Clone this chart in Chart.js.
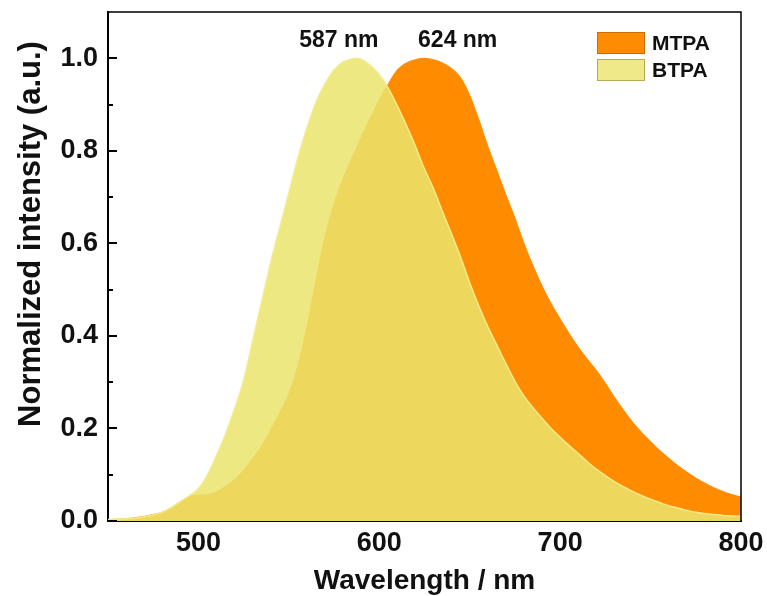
<!DOCTYPE html>
<html>
<head>
<meta charset="utf-8">
<script src="https://cdn.jsdelivr.net/npm/chart.js@4/dist/chart.umd.min.js"></script>
<style>
  html, body { margin: 0; padding: 0; background: #fff; }
  #wrap { width: 767px; height: 596px; }
</style>
</head>
<body>
<div id="wrap"><canvas id="pl_chart"></canvas></div>
<script>
// emission spectra, normalized
const wavelengths = [
  450, 455, 460, 465, 470, 475, 480, 485, 490, 495,
  500, 505, 510, 515, 520, 525, 530, 535, 540, 545,
  550, 555, 560, 565, 570, 575, 580, 585, 587, 590,
  595, 600, 605, 610, 615, 620, 624, 630, 635, 640,
  645, 650, 655, 660, 665, 670, 675, 680, 685, 690,
  695, 700, 705, 710, 715, 720, 725, 730, 735, 740,
  745, 750, 755, 760, 765, 770, 775, 780, 785, 790,
  795, 800
];

const mtpa = [
  0.003, 0.004, 0.005, 0.007, 0.010, 0.014, 0.019, 0.029, 0.042, 0.053,
  0.056, 0.057, 0.063, 0.075, 0.090, 0.110, 0.135, 0.163, 0.197, 0.235,
  0.275, 0.335, 0.420, 0.520, 0.615, 0.685, 0.740, 0.785, 0.803, 0.830,
  0.870, 0.910, 0.945, 0.975, 0.990, 0.997, 1.000, 0.997, 0.990, 0.978,
  0.958, 0.920, 0.868, 0.810, 0.758, 0.705, 0.655, 0.600, 0.552, 0.508,
  0.470, 0.437, 0.405, 0.376, 0.350, 0.326, 0.298, 0.268, 0.240, 0.214,
  0.192, 0.172, 0.153, 0.136, 0.120, 0.106, 0.093, 0.082, 0.072, 0.064,
  0.057, 0.052
];

const btpa = [
  0.003, 0.004, 0.005, 0.006, 0.009, 0.013, 0.019, 0.029, 0.042, 0.055,
  0.070, 0.100, 0.142, 0.188, 0.243, 0.305, 0.390, 0.475, 0.560, 0.635,
  0.710, 0.785, 0.850, 0.905, 0.945, 0.975, 0.992, 0.999, 1.000, 0.998,
  0.985, 0.965, 0.935, 0.897, 0.855, 0.810, 0.770, 0.718, 0.668, 0.620,
  0.570, 0.515, 0.465, 0.420, 0.380, 0.340, 0.302, 0.270, 0.245, 0.222,
  0.200, 0.181, 0.163, 0.146, 0.128, 0.112, 0.098, 0.085, 0.074, 0.064,
  0.055, 0.047, 0.040, 0.033, 0.028, 0.023, 0.019, 0.016, 0.014, 0.012,
  0.011, 0.010
];

const seriesNames = ['MTPA', 'BTPA'];
const peaks = [587, 624];

const xTicks = [500, 600, 700, 800];
const yMajor = [0, 0.2, 0.4, 0.6, 0.8, 1.0];
const yMinor = [0.1, 0.3, 0.5, 0.7, 0.9];

const FONT = "'Liberation Sans', Arial, sans-serif";

function toPoints(values) {
  return wavelengths.map((w, i) => ({ x: w, y: values[i] }));
}

const isMajor = v => yMajor.some(m => Math.abs(m - v) < 1e-6);

// frame on top/right, inward ticks on the y axis, rotated y title
const framePlugin = {
  id: 'frame',
  afterDraw(chart) {
    const { ctx, chartArea: a } = chart;
    const y = chart.scales.y;
    ctx.save();
    ctx.strokeStyle = '#000';
    ctx.lineWidth = 1.5;
    ctx.beginPath();
    ctx.moveTo(a.left, a.top);
    ctx.lineTo(a.right, a.top);
    ctx.lineTo(a.right, a.bottom);
    ctx.stroke();

    ctx.lineWidth = 2;
    y.ticks.forEach(t => {
      const py = Math.round(y.getPixelForValue(t.value));
      const len = isMajor(t.value) ? 9 : 5;
      ctx.beginPath();
      ctx.moveTo(a.left, py);
      ctx.lineTo(a.left + len, py);
      ctx.stroke();
    });

    ctx.translate(31, 234);
    ctx.rotate(-Math.PI / 2);
    ctx.fillStyle = '#111';
    ctx.font = 'bold 31px ' + FONT;
    ctx.textAlign = 'center';
    ctx.textBaseline = 'middle';
    ctx.fillText('Normalized intensity (a.u.)', 0, 0);
    ctx.restore();
  }
};

// peak labels and the legend inside the plot
const notesPlugin = {
  id: 'notes',
  afterDraw(chart) {
    const { ctx, chartArea: a } = chart;
    const x = chart.scales.x;
    ctx.save();
    ctx.fillStyle = '#111';
    ctx.font = 'bold 23px ' + FONT;
    ctx.textAlign = 'center';
    ctx.textBaseline = 'middle';
    const shift = [-17, 35];
    peaks.forEach((p, i) => {
      ctx.fillText(p + ' nm', x.getPixelForValue(p) + shift[i], 41);
    });

    const boxBorders = ['#c96f00', '#b5ab5a'];
    const legendFill = ['#ff8c00', '#efe98a'];
    ctx.font = 'bold 21px ' + FONT;
    ctx.textAlign = 'left';
    chart.data.datasets.forEach((ds, i) => {
      const bx = a.right - 144, by = 32 + i * 27;
      ctx.fillStyle = legendFill[i];
      ctx.fillRect(bx, by, 48, 22);
      ctx.strokeStyle = boxBorders[i];
      ctx.lineWidth = 1;
      ctx.strokeRect(bx + 0.5, by + 0.5, 47, 21);
      ctx.fillStyle = '#111';
      ctx.fillText(ds.label, bx + 55, by + 12);
    });
    ctx.restore();
  }
};

const ctx = document.getElementById('pl_chart').getContext('2d');

const chart = new Chart(ctx, {
  type: 'line',
  data: {
    datasets: [
      {
        label: seriesNames[0],
        data: toPoints(mtpa),
        backgroundColor: 'rgb(255, 140, 0)',
        borderColor: 'rgb(255, 140, 0)',
        borderWidth: 1,
        fill: 'origin',
        order: 2
      },
      {
        label: seriesNames[1],
        data: toPoints(btpa),
        backgroundColor: 'rgba(234, 228, 108, 0.85)',
        borderColor: 'rgba(242, 236, 140, 0.95)',
        borderWidth: 1.5,
        fill: 'origin',
        order: 1
      }
    ]
  },
  options: {
    responsive: true,
    maintainAspectRatio: false,
    animation: false,
    layout: { padding: { top: 12, right: 26, left: 0, bottom: 0 } },
    elements: {
      point: { radius: 0 },
      line: { cubicInterpolationMode: 'monotone' }
    },
    plugins: {
      legend: { display: false },
      tooltip: { enabled: false }
    },
    scales: {
      x: {
        type: 'linear',
        min: 450,
        max: 800,
        afterBuildTicks: s => { s.ticks = xTicks.map(v => ({ value: v })); },
        afterFit: s => { s.height = 75; s.paddingLeft = 0; s.paddingRight = 0; },
        grid: { display: false, drawTicks: false, tickLength: 0 },
        border: { display: true, color: '#000', width: 2 },
        ticks: {
          color: '#111',
          padding: 6,
          maxRotation: 0,
          font: { family: FONT, size: 27, weight: 'bold' }
        },
        title: {
          display: true,
          text: 'Wavelength / nm',
          color: '#111',
          padding: { top: 0, bottom: 1 },
          font: { family: FONT, size: 28, weight: 'bold', lineHeight: 1 }
        }
      },
      y: {
        min: 0,
        max: 1.1,
        afterBuildTicks: s => {
          s.ticks = yMajor.concat(yMinor).sort((a, b) => a - b).map(v => ({ value: v }));
        },
        afterFit: s => { s.width = 108; s.paddingTop = 0; s.paddingBottom = 0; },
        grid: { display: false, drawTicks: false, tickLength: 0 },
        border: { display: true, color: '#000', width: 2 },
        ticks: {
          color: '#111',
          padding: 10,
          autoSkip: false,
          font: { family: FONT, size: 27, weight: 'bold' },
          callback: v => isMajor(v) ? v.toFixed(1) : ''
        }
      }
    }
  },
  plugins: [framePlugin, notesPlugin]
});
</script>
</body>
</html>
